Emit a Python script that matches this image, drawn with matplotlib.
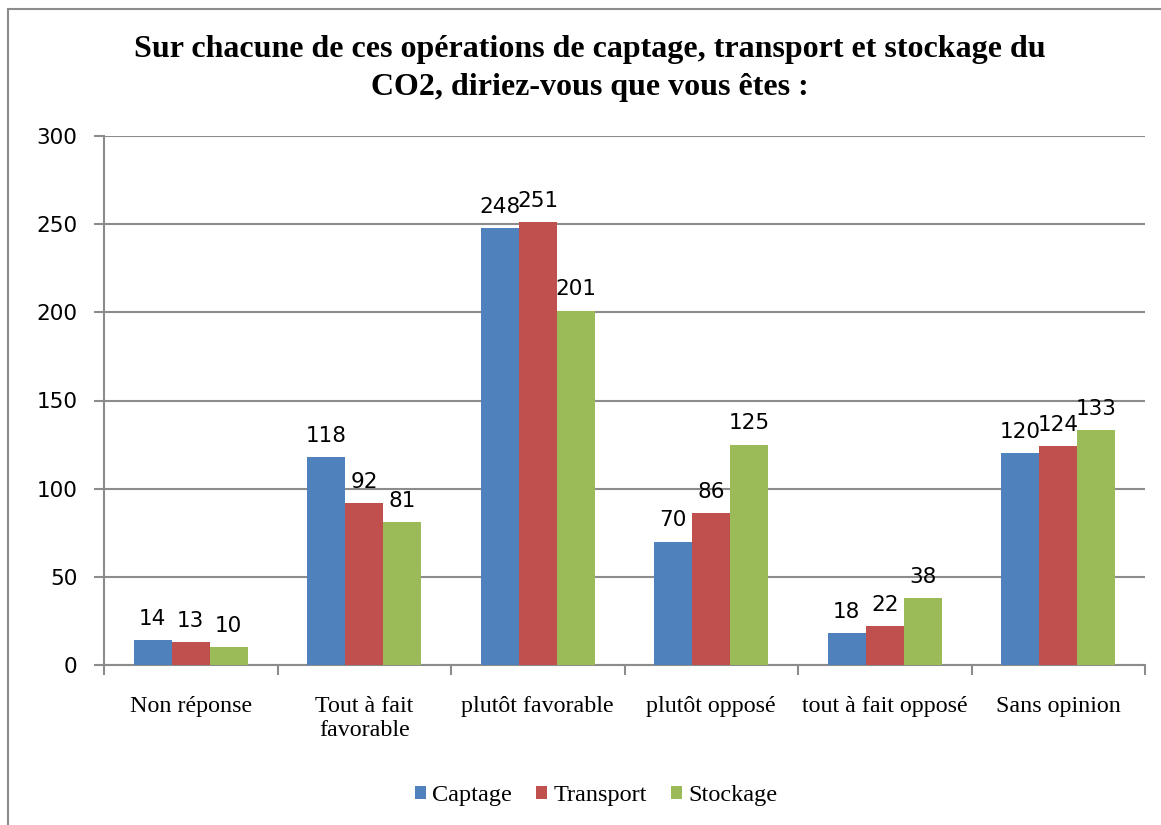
import matplotlib.pyplot as plt
import numpy as np
from matplotlib.patches import Rectangle

categories = ["Non réponse", "Tout à fait\nfavorable", "plutôt favorable",
              "plutôt opposé", "tout à fait opposé", "Sans opinion"]
captage = [14, 118, 248, 70, 18, 120]
transport = [13, 92, 251, 86, 22, 124]
stockage = [10, 81, 201, 125, 38, 133]
series = [("Captage", captage, "#4F81BD"),
          ("Transport", transport, "#C0504D"),
          ("Stockage", stockage, "#9BBB59")]
yticks = [0, 50, 100, 150, 200, 250, 300]

W, H = 1161, 825
fig = plt.figure(figsize=(W / 100, H / 100), dpi=100)
ax = fig.add_axes([104 / W, 1 - 665 / H, (1145 - 104) / W, (665 - 136) / H])

# outer frame (only left/top visible in the reference)
fig.patches.append(Rectangle((8 / W, -0.1), 1.2, 1 - 9 / H + 0.1,
                             transform=fig.transFigure, fill=False,
                             edgecolor="#8c8c8c", linewidth=1.5))

x = np.arange(len(categories))
bw = 0.219
for i, (name, vals, col) in enumerate(series):
    pos = x + (i - 1) * bw
    ax.bar(pos, vals, width=bw, color=col, label=name, zorder=3)
    for p, v in zip(pos, vals):
        ax.annotate(str(v), (p, v), xytext=(0, 8), textcoords="offset points",
                    ha="center", va="bottom", fontsize=15.5, family="DejaVu Sans")

ax.set_xlim(-0.5, len(categories) - 0.5)
ax.set_ylim(0, 300)
ax.set_yticks(yticks)
ax.set_yticklabels([str(t) for t in yticks], family="DejaVu Sans", fontsize=15.5)
ax.tick_params(axis="y", length=7, width=1.5, color="#8c8c8c", pad=12)
ax.grid(axis="y", color="#8c8c8c", linewidth=1.5, zorder=0)
ax.set_xticks(x)
ax.set_xticklabels(categories, family="Liberation Serif", fontsize=17.3)
ax.tick_params(axis="x", length=0, pad=22)
ax.set_xticks(np.arange(len(categories) + 1) - 0.5, minor=True)
ax.tick_params(axis="x", which="minor", length=7, width=1.5, color="#8c8c8c")
for s in ["top", "right"]:
    ax.spines[s].set_visible(False)
for s in ["left", "bottom"]:
    ax.spines[s].set_color("#8c8c8c")
    ax.spines[s].set_linewidth(1.5)

fig.text(590 / W, 1 - 68.5 / H,
         "Sur chacune de ces opérations de captage, transport et stockage du\nCO2, diriez-vous que vous êtes :",
         ha="center", va="center", family="Liberation Serif", weight="bold",
         fontsize=23, linespacing=1.38)

fig.legend(loc="center", bbox_to_anchor=(596 / W, 1 - 796 / H), ncol=3,
           frameon=False, prop={"family": "Liberation Serif", "size": 17.5},
           handlelength=0.45, handleheight=0.45, handletextpad=0.25, columnspacing=1.0)

fig.savefig("out.png", dpi=100)
